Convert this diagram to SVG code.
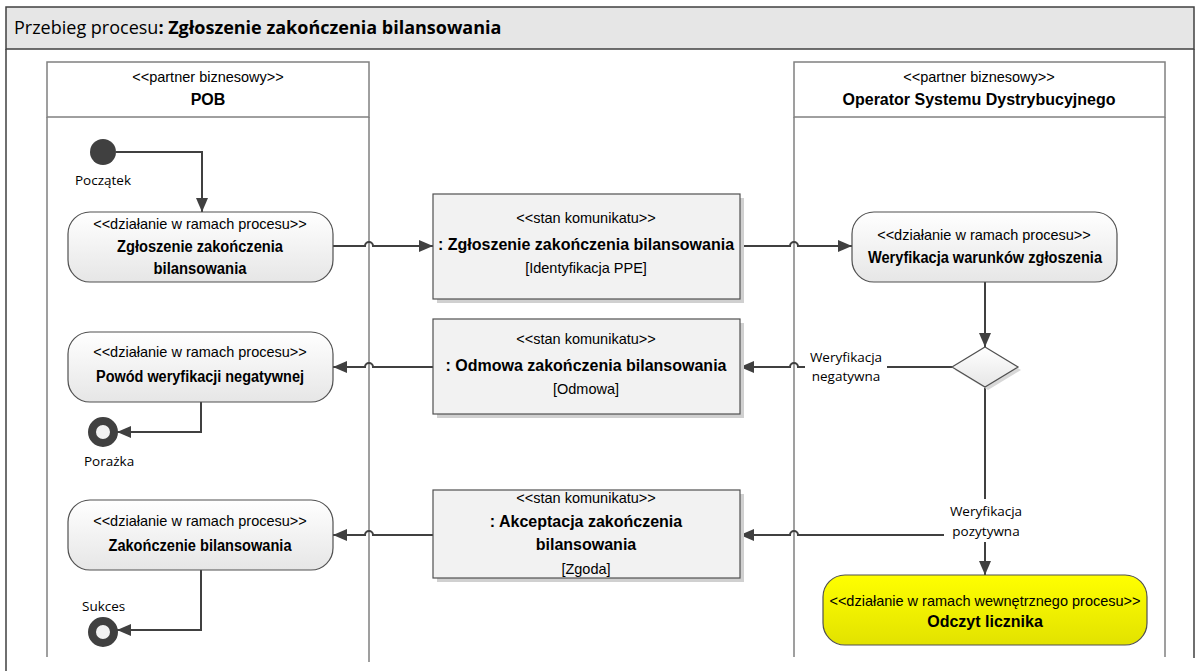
<svg xmlns="http://www.w3.org/2000/svg" width="1198" height="671" viewBox="0 0 1198 671">
<defs>
<linearGradient id="gAct" x1="0" y1="0" x2="0" y2="1"><stop offset="0" stop-color="#ffffff"/><stop offset="1" stop-color="#e6e6e6"/></linearGradient>
<linearGradient id="gYel" x1="0" y1="0" x2="0" y2="1"><stop offset="0" stop-color="#ffff00"/><stop offset="1" stop-color="#e2e200"/></linearGradient>
<marker id="arr" markerUnits="userSpaceOnUse" markerWidth="14" markerHeight="12" viewBox="0 0 14 12" refX="14" refY="6" orient="auto"><path d="M0,0 L14,6 L0,12 Z" fill="#404040"/></marker>
</defs>
<style>
.frame{fill:none;stroke:#404040;stroke-width:1.5}
.lane{fill:none;stroke:#808080;stroke-width:1.5}
.hdr{fill:#ffffff;stroke:#808080;stroke-width:1.5}
.act{fill:url(#gAct);stroke:#505050;stroke-width:1.2}
.msg{fill:#f2f2f2;stroke:#505050;stroke-width:1.2}
.shadow{fill:#d0d0d0}
.con{fill:none;stroke:#404040;stroke-width:2}
.n{font-family:"Liberation Sans",Arial,sans-serif;font-size:14.5px;fill:#000;text-anchor:middle}
.b{font-weight:bold;font-size:16px}
.lbl{font-family:"Open Sans","Noto Sans",sans-serif;font-size:13.5px;fill:#000}
.title{font-family:"Open Sans","Noto Sans",sans-serif;font-size:18px;fill:#000}
</style>
<rect x="6" y="7" width="1188" height="42" fill="#e6e6e6" stroke="#404040" stroke-width="1.5"/>
<text class="title" x="14" y="34">Przebieg procesu<tspan font-weight="bold">: Zgłoszenie zakończenia bilansowania</tspan></text>
<path class="frame" d="M6,49 V671 M1194,49 V658"/>

<g id="lane-pob">
<path class="lane" d="M47,117 V657 M369,117 V662"/>
<rect class="hdr" x="47" y="62" width="322" height="55"/>
<text class="n" x="208" y="82" font-size="14">&lt;&lt;partner biznesowy&gt;&gt;</text>
<text class="n b" x="208" y="105">POB</text>
</g>
<g id="lane-osd">
<path class="lane" d="M794,117 V657 M1165,117 V657"/>
<rect class="hdr" x="794" y="62" width="371" height="55"/>
<text class="n" x="979" y="82" font-size="14">&lt;&lt;partner biznesowy&gt;&gt;</text>
<text class="n b" x="979" y="105">Operator Systemu Dystrybucyjnego</text>
</g>

<g id="connectors">
<path class="con" d="M116,152 H202 V212" marker-end="url(#arr)"/>
<path class="con" d="M333,246 H365 a4,4 0 0 1 8,0 H433" marker-end="url(#arr)"/>
<path class="con" d="M740,246 H790 a4,4 0 0 1 8,0 H852" marker-end="url(#arr)"/>
<path class="con" d="M985,282 V347" marker-end="url(#arr)"/>
<path class="con" d="M952,367 H798 a4,4 0 0 0 -8,0 H740" marker-end="url(#arr)"/>
<path class="con" d="M433,367 H373 a4,4 0 0 0 -8,0 H333" marker-end="url(#arr)"/>
<path class="con" d="M201,402 V432 H117" marker-end="url(#arr)"/>
<path class="con" d="M985,387 V575" marker-end="url(#arr)"/>
<path class="con" d="M985,535 H798 a4,4 0 0 0 -8,0 H740" marker-end="url(#arr)"/>
<path class="con" d="M433,535 H373 a4,4 0 0 0 -8,0 H333" marker-end="url(#arr)"/>
<path class="con" d="M201,570 V630 H117" marker-end="url(#arr)"/>
<rect x="805" y="349" width="82" height="33" fill="#ffffff"/>
<text class="lbl" x="846" y="362" text-anchor="middle">Weryfikacja</text>
<text class="lbl" x="846" y="381" text-anchor="middle">negatywna</text>
<rect x="944" y="499" width="84" height="43" fill="#ffffff"/>
<text class="lbl" x="986" y="516" text-anchor="middle">Weryfikacja</text>
<text class="lbl" x="986" y="536" text-anchor="middle">pozytywna</text>
</g>

<g id="start">
<circle cx="103" cy="152" r="13" fill="#404040"/>
<text class="lbl" x="75" y="185">Początek</text>
</g>

<g id="act-zgloszenie">
<rect class="act" x="68" y="212" width="265" height="70" rx="22"/>
<text class="n" x="200" y="229">&lt;&lt;działanie w ramach procesu&gt;&gt;</text>
<text class="n b" x="200" y="252" textLength="166" lengthAdjust="spacingAndGlyphs">Zgłoszenie zakończenia</text>
<text class="n b" x="200" y="274" textLength="93" lengthAdjust="spacingAndGlyphs">bilansowania</text>
</g>

<g id="msg-zgloszenie">
<rect class="shadow" x="437" y="198" width="307" height="105"/>
<rect class="msg" x="433" y="194" width="307" height="105"/>
<text class="n" x="586" y="223">&lt;&lt;stan komunikatu&gt;&gt;</text>
<text class="n b" x="586" y="250">: Zgłoszenie zakończenia bilansowania</text>
<text class="n" x="586" y="273">[Identyfikacja PPE]</text>
</g>

<g id="act-weryfikacja">
<rect class="act" x="852" y="212" width="265" height="70" rx="22"/>
<text class="n" x="984" y="240">&lt;&lt;działanie w ramach procesu&gt;&gt;</text>
<text class="n b" x="985" y="263" textLength="234" lengthAdjust="spacingAndGlyphs">Weryfikacja warunków zgłoszenia</text>
</g>

<g id="decision">
<path d="M988,350 L1021,370 L988,390 L955,370 Z" fill="#d8d8d8"/>
<path d="M985,347 L1018,367 L985,387 L952,367 Z" fill="url(#gAct)" stroke="#505050" stroke-width="1.2"/>
</g>

<g id="msg-odmowa">
<rect class="shadow" x="437" y="323" width="307" height="95"/>
<rect class="msg" x="433" y="319" width="307" height="95"/>
<text class="n" x="586" y="344">&lt;&lt;stan komunikatu&gt;&gt;</text>
<text class="n b" x="586" y="371">: Odmowa zakończenia bilansowania</text>
<text class="n" x="586" y="394">[Odmowa]</text>
</g>

<g id="act-powod">
<rect class="act" x="68" y="332" width="265" height="70" rx="22"/>
<text class="n" x="200" y="357">&lt;&lt;działanie w ramach procesu&gt;&gt;</text>
<text class="n b" x="200" y="382" textLength="208" lengthAdjust="spacingAndGlyphs">Powód weryfikacji negatywnej</text>
</g>

<g id="end-porazka">
<circle cx="103" cy="432" r="11" fill="#f2f2f2" stroke="#404040" stroke-width="8"/>
<text class="lbl" x="84" y="466">Porażka</text>
</g>

<g id="msg-akceptacja">
<rect class="shadow" x="437" y="494" width="307" height="88"/>
<rect class="msg" x="433" y="490" width="307" height="88"/>
<text class="n" x="586" y="503">&lt;&lt;stan komunikatu&gt;&gt;</text>
<text class="n b" x="586" y="527">: Akceptacja zakończenia</text>
<text class="n b" x="586" y="550">bilansowania</text>
<text class="n" x="586" y="574">[Zgoda]</text>
</g>

<g id="act-zakonczenie">
<rect class="act" x="68" y="500" width="265" height="70" rx="22"/>
<text class="n" x="200" y="526">&lt;&lt;działanie w ramach procesu&gt;&gt;</text>
<text class="n b" x="200" y="551" textLength="183" lengthAdjust="spacingAndGlyphs">Zakończenie bilansowania</text>
</g>

<g id="end-sukces">
<circle cx="103" cy="632" r="11" fill="#f2f2f2" stroke="#404040" stroke-width="8"/>
<text class="lbl" x="82" y="611">Sukces</text>
</g>

<g id="act-odczyt">
<rect x="823" y="575" width="324" height="70" rx="22" fill="url(#gYel)" stroke="#505050" stroke-width="1.2"/>
<text class="n" x="985" y="606">&lt;&lt;działanie w ramach wewnętrznego procesu&gt;&gt;</text>
<text class="n b" x="985" y="627">Odczyt licznika</text>
</g>
</svg>
